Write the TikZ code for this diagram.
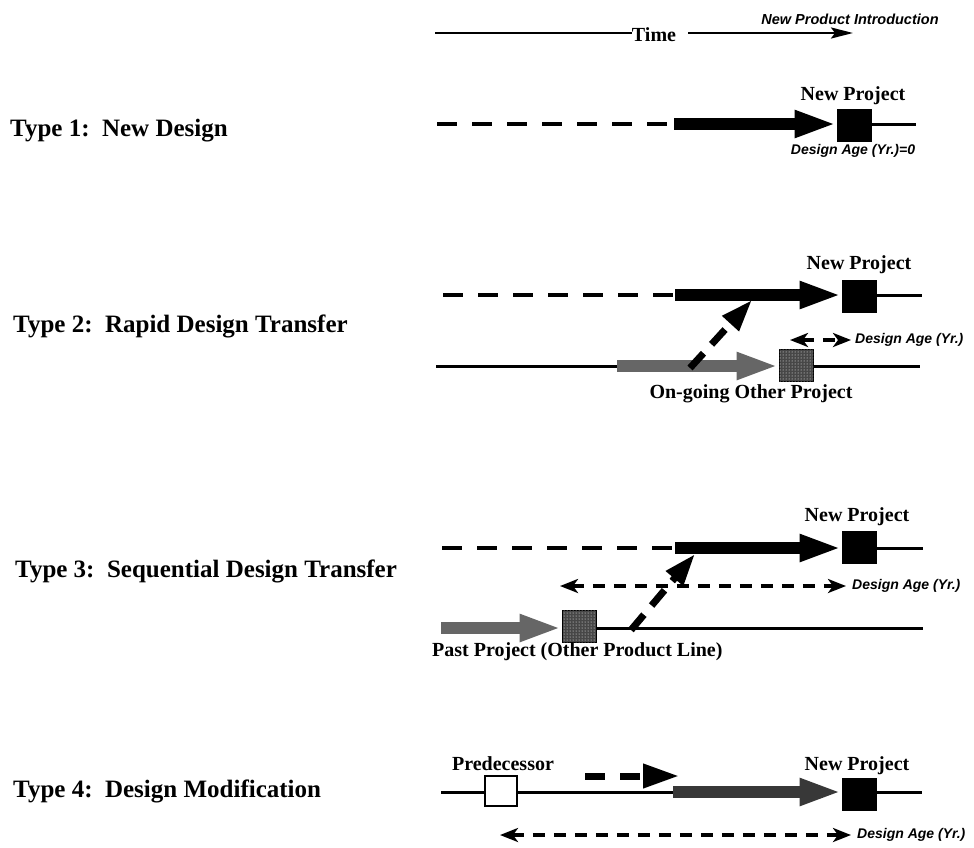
\documentclass[tikz,border=0pt]{standalone}
\usepackage{fontspec}
\setmainfont{Liberation Serif}
\setsansfont{Liberation Sans}
\usetikzlibrary{arrows.meta,patterns}
\begin{document}
\begin{tikzpicture}[x=1pt,y=-1pt,
  typelbl/.style={anchor=base west, inner sep=0pt, font=\fontsize{25}{29}\selectfont\bfseries},
  projlbl/.style={anchor=base, inner sep=0pt, font=\fontsize{20}{24}\selectfont\bfseries},
  agelbl/.style={anchor=west, inner sep=0pt, font=\fontsize{14}{16}\selectfont\sffamily\bfseries\itshape},
  thinline/.style={line width=3pt},
  dashline/.style={line width=4.5pt, dash pattern=on 20pt off 15pt},
  bigarrow/.style={line width=12pt, -{Triangle[length=42pt,width=25pt]}},
  stipplearrow/.style={bigarrow, draw=black!60},
  greyarrow/.style={bigarrow, draw=black!78},
  diagarrow/.style={line width=7pt, dash pattern=on 20pt off 12pt, -{Triangle[length=32pt,width=21pt]}},
  agearrow/.style={line width=3.5pt, dash pattern=on 12pt off 9pt,
     {Stealth[length=18pt,width=14pt,inset=5pt]}-{Stealth[length=18pt,width=14pt,inset=5pt]}},
  blacksq/.style={draw=black, fill=black, line width=1pt, minimum width=34pt, minimum height=32pt, inner sep=0pt},
  dotsq/.style={blacksq, fill=black!72, postaction={pattern=dots, pattern color=white}},
  whitesq/.style={blacksq, fill=white, line width=2.5pt, minimum width=32pt, minimum height=30pt},
]
\useasboundingbox (0,0) rectangle (974,847);

% ---------- time axis ----------
\coordinate (tl) at (435,33);
\coordinate (tr) at (853,33);
\node[projlbl] (time) at (654,41) {Time};
\draw[line width=2.5pt] (tl) -- (time.west |- tl);
\draw[line width=2.5pt, -{Stealth[length=22pt,width=11pt,inset=4pt]}] ([xshift=12pt]time.east |- tr) -- (tr);
\node[font=\fontsize{14.5}{17}\selectfont\sffamily\bfseries\itshape, inner sep=0pt] (npi) at (850,19) {New Product Introduction};

% ---------- Type 1 ----------
\node[typelbl] (t1) at (10,136) {Type 1:\ \ New Design};
\node[blacksq] (s1) at (854,125) {};
\coordinate (d1a) at (437,124);
\coordinate (d1b) at (668,124);
\coordinate (b1) at (674,124);
\coordinate (e1) at (916,124);
\draw[dashline] (d1a) -- (d1b);
\draw[bigarrow] (b1) -- (s1.west |- b1);
\draw[thinline] (s1.east |- e1) -- (e1);
\node[projlbl] (np1) at (853,100) {New Project};
\node[agelbl, anchor=center] (age1) at (853,151) {Design Age (Yr.)=0};

% ---------- Type 2 ----------
\node[typelbl] (t2) at (13,332) {Type 2:\ \ Rapid Design Transfer};
\node[blacksq] (s2) at (859,296) {};
\coordinate (d2a) at (443,295);
\coordinate (d2b) at (673,295);
\coordinate (b2) at (675,295);
\coordinate (e2) at (922,295);
\draw[dashline] (d2a) -- (d2b);
\draw[bigarrow] (b2) -- (s2.west |- b2);
\draw[thinline] (s2.east |- e2) -- (e2);
\node[projlbl] (np2) at (859,269) {New Project};
\coordinate (a2l) at (790,340);
\coordinate (a2r) at (851,340);
\draw[agearrow] (a2l) -- (a2r);
\node[agelbl] (age2) at (855,340) {Design Age (Yr.)};
% lower line
\node[dotsq] (s2b) at (796,365) {};
\coordinate (l2a) at (436,366);
\coordinate (l2b) at (920,366);
\coordinate (p2) at (617,366);
\draw[thinline] (l2a) -- (p2);
\draw[thinline] (s2b.east |- l2b) -- (l2b);
\draw[stipplearrow] (p2) -- (s2b.west |- p2);
\node[projlbl] (og) at (751,398) {On-going Other Project};
\coordinate (x2a) at (690,368);
\coordinate (x2b) at (752,300);
\draw[diagarrow] (x2a) -- (x2b);

% ---------- Type 3 ----------
\node[typelbl] (t3) at (15,577) {Type 3:\ \ Sequential Design Transfer};
\node[blacksq] (s3) at (859,547) {};
\coordinate (d3a) at (442,548);
\coordinate (d3b) at (672,548);
\coordinate (b3) at (675,548);
\coordinate (e3) at (923,548);
\draw[dashline] (d3a) -- (d3b);
\draw[bigarrow] (b3) -- (s3.west |- b3);
\draw[thinline] (s3.east |- e3) -- (e3);
\node[projlbl] (np3) at (857,521) {New Project};
\coordinate (a3l) at (560,586);
\coordinate (a3r) at (846,586);
\draw[agearrow] (a3l) -- (a3r);
\node[agelbl] (age3) at (852,586) {Design Age (Yr.)};
% lower line
\node[dotsq] (s3b) at (579,626) {};
\coordinate (l3a) at (441,628);
\coordinate (l3b) at (923,628);
\draw[stipplearrow] (l3a) -- (s3b.west |- l3a);
\draw[thinline] (s3b.east |- l3b) -- (l3b);
\node[projlbl, anchor=base west] (pp) at (432,656) {Past Project (Other Product Line)};
\coordinate (x3a) at (631,630);
\coordinate (x3b) at (695,554);
\draw[diagarrow] (x3a) -- (x3b);

% ---------- Type 4 ----------
\node[typelbl] (t4) at (13,797) {Type 4:\ \ Design Modification};
\node[whitesq] (pred) at (501,791) {};
\node[blacksq] (s4) at (859,794) {};
\coordinate (l4a) at (441,792);
\coordinate (b4) at (673,792);
\coordinate (e4) at (922,792);
\draw[thinline] (l4a) -- (pred.west |- l4a);
\draw[thinline] (pred.east |- l4a) -- (b4);
\draw[greyarrow] (b4) -- (s4.west |- b4);
\draw[thinline] (s4.east |- e4) -- (e4);
\node[projlbl] (prl) at (503,770) {Predecessor};
\node[projlbl] (np4) at (857,770) {New Project};
\coordinate (m4a) at (585,776);
\coordinate (m4b) at (679,776);
\draw[line width=7pt, dash pattern=on 20pt off 15pt, -{Triangle[length=36pt,width=23pt]}] (m4a) -- (m4b);
\coordinate (a4l) at (500,835);
\coordinate (a4r) at (851,835);
\draw[agearrow] (a4l) -- (a4r);
\node[agelbl] (age4) at (857,835) {Design Age (Yr.)};
\end{tikzpicture}
\end{document}
